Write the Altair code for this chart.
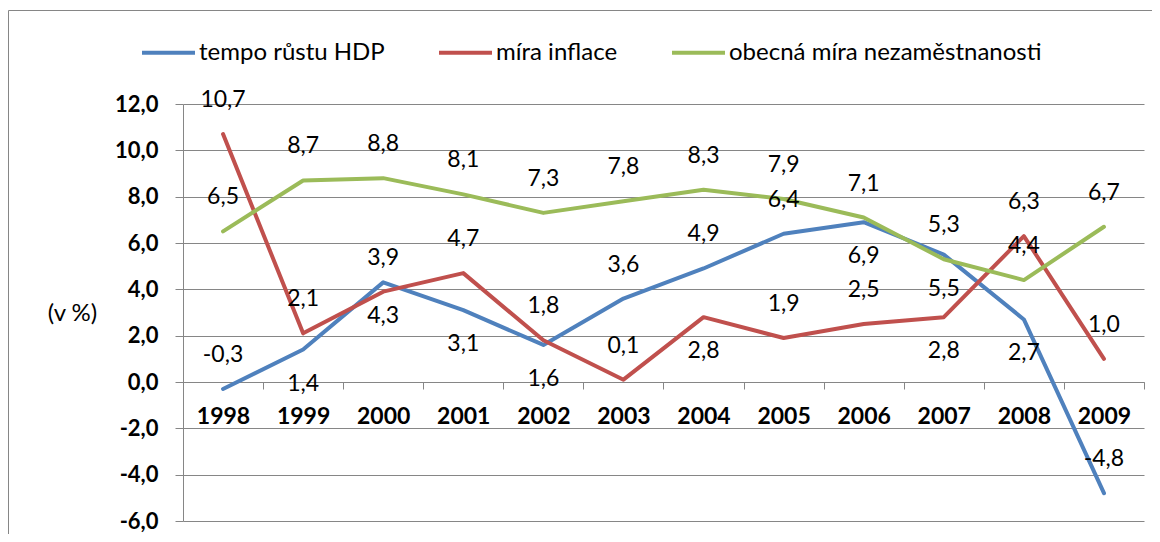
import altair as alt
import pandas as pd

years = ["1998", "1999", "2000", "2001", "2002", "2003", "2004", "2005", "2006", "2007", "2008", "2009"]
series_names = ["tempo růstu HDP", "míra inflace", "obecná míra nezaměstnanosti"]
hdp = [-0.3, 1.4, 4.3, 3.1, 1.6, 3.6, 4.9, 6.4, 6.9, 5.5, 2.7, -4.8]
inflace = [10.7, 2.1, 3.9, 4.7, 1.8, 0.1, 2.8, 1.9, 2.5, 2.8, 6.3, 1.0]
nezam = [6.5, 8.7, 8.8, 8.1, 7.3, 7.8, 8.3, 7.9, 7.1, 5.3, 4.4, 6.7]
hdp_side = ["above", "below", "below", "below", "below", "above", "above", "above", "below", "below", "below", "above"]
inflace_side = ["above", "above", "above", "above", "above", "above", "below", "above", "above", "below", "above", "above"]
nezam_side = ["above"] * 12
colors = ["#4F81BD", "#C0504D", "#9BBB59"]
y_ticks = [-6, -4, -2, 0, 2, 4, 6, 8, 10, 12]

rows = []
for name, vals, sides in zip(series_names, [hdp, inflace, nezam], [hdp_side, inflace_side, nezam_side]):
    for yr, v, s in zip(years, vals, sides):
        rows.append({"year": yr, "series": name, "value": v, "side": s})
df = pd.DataFrame(rows)

FONT = "Lato"
GRAY = "#868686"
fmt = "replace(replace(format({v}, '.1f'), '.', ','), '\u2212', '-')"

x_enc = alt.X(
    "year:O",
    sort=years,
    scale=alt.Scale(type="band", paddingInner=0, paddingOuter=0),
    axis=alt.Axis(
        orient="bottom", offset=-139, tickBand="extent", tickSize=7, tickColor=GRAY,
        domainColor=GRAY, grid=False, labelAngle=0, labelFont=FONT, labelFontWeight="bold",
        labelFontSize=23, labelColor="black", labelPadding=16, labelBaseline="top",
        labelOverlap=False, title=None,
    ),
)
y_enc = alt.Y(
    "value:Q",
    scale=alt.Scale(domain=[-6, 12], nice=False, zero=False),
    axis=alt.Axis(
        values=y_ticks, labelExpr=fmt.format(v="datum.value"), labelFont=FONT,
        labelFontWeight="bold", labelFontSize=22, labelColor="black", labelPadding=17,
        tickSize=8, tickColor=GRAY, domainColor=GRAY, grid=True, gridColor=GRAY,
        labelOverlap=False,
        title="(v %)", titleAngle=0, titleX=-111, titleY=209, titleFont=FONT,
        titleFontSize=24, titleFontWeight="normal", titleColor="black",
        titleAlign="center", titleBaseline="middle",
    ),
)

base = alt.Chart(df).encode(x=x_enc, y=y_enc)

lines = base.mark_line(strokeWidth=4, strokeJoin="round", strokeCap="round").encode(
    color=alt.Color(
        "series:N",
        scale=alt.Scale(domain=series_names, range=colors),
        legend=alt.Legend(
            orient="none", legendX=-43, legendY=-80, direction="horizontal", title=None,
            symbolType="stroke", symbolSize=2809, symbolStrokeWidth=4, labelFont=FONT,
            labelFontSize=24, labelColor="black", labelOffset=2, columnPadding=46,
            padding=0, labelLimit=500,
        ),
    )
)

labels_above = base.transform_filter(alt.datum.side == "above").transform_calculate(
    label=fmt.format(v="datum.value")
).mark_text(dy=-34, font=FONT, fontSize=23, color="black").encode(text="label:N")

labels_below = base.transform_filter(alt.datum.side == "below").transform_calculate(
    label=fmt.format(v="datum.value")
).mark_text(dy=34, font=FONT, fontSize=23, color="black").encode(text="label:N")

border = alt.Chart(pd.DataFrame({"a": [0]})).mark_rect(
    fill=None, stroke=GRAY, strokeWidth=1
).encode(
    x=alt.value(-174.5), x2=alt.value(1000), y=alt.value(-93.5), y2=alt.value(470)
)

chart = alt.layer(border, lines, labels_above, labels_below).properties(
    width=961, height=417,
    padding={"left": 175, "top": 96, "right": 8, "bottom": 13},
    autosize=alt.AutoSizeParams(type="none"),
).configure_view(stroke=None)

chart.save("out.html", embed_options={"renderer": "svg", "actions": False})
